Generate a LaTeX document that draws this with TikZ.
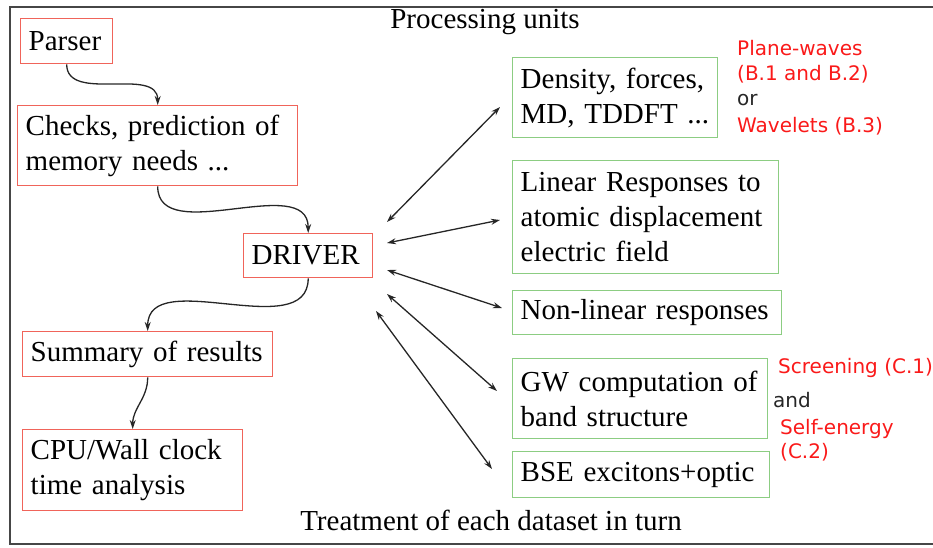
\documentclass[tikz,border=0pt]{standalone}
\usepackage{fontspec}
\setmainfont{Liberation Serif}
\newfontfamily\notefont{DejaVu Sans}
\usetikzlibrary{arrows.meta}

\definecolor{boxred}{RGB}{240,100,90}
\definecolor{boxgreen}{RGB}{140,205,130}
\definecolor{notered}{RGB}{250,25,25}
\definecolor{framegray}{RGB}{70,70,70}

\tikzset{
	unitbox/.style={line width=1.4pt, inner xsep=8pt, inner ysep=0pt, align=left,
		anchor=north west, font=\fontsize{29}{35}\selectfont},
	redbox/.style={unitbox, draw=boxred},
	greenbox/.style={unitbox, draw=boxgreen},
	bigtext/.style={font=\fontsize{29}{35}\selectfont},
	note/.style={anchor=base west, inner sep=0pt, font=\notefont\fontsize{20}{26}\selectfont},
	flow/.style={line width=1.3pt, draw=black!85, -{Stealth[length=9pt,width=6pt]}},
	link/.style={line width=1.3pt, draw=black!85,
		{Stealth[length=9pt,width=6pt]}-{Stealth[length=9pt,width=6pt]}}
}

\begin{document}
\begin{tikzpicture}[x=1pt, y=-1pt]
	\useasboundingbox (0,0) rectangle (933,547);
	% Cadre
	\draw[framegray, line width=1.5pt] (933,7) -- (10,7) -- (10,544) -- (933,544);
	\node[bigtext] (title) at (485,22) {Processing units};
	\node[bigtext] (footer) at (491,520) {Treatment of each dataset in turn};
	% Pilote
	\node[redbox, text width=76pt, minimum height=45pt] (parser) at (20,18) {Parser};
	\node[redbox, text width=264pt, minimum height=80pt] (checks) at (17,105) {Checks, prediction of\\memory needs ...};
	\node[redbox, text width=113pt, minimum height=44pt] (driver) at (243,233) {DRIVER};
	\node[redbox, text width=234pt, minimum height=45pt] (summary) at (22,331) {Summary of results};
	\node[redbox, text width=204pt, minimum height=81pt] (cpu) at (22,429) {CPU/Wall clock\\time analysis};
	\draw[flow] (parser.south) to[out=-90, in=90] (checks.north);
	\draw[flow] (checks.south) to[out=-90, in=90] (driver.north);
	\draw[flow] (driver.south) to[out=-90, in=90] (summary.north);
	\draw[flow] (summary.south) to[out=-90, in=90] (cpu.north);
	% Unites de calcul
	\node[greenbox, text width=189pt, minimum height=80pt] (dens) at (512,57) {Density, forces,\\MD, TDDFT ...};
	\node[greenbox, text width=250pt, minimum height=113pt] (lin) at (512,160) {Linear Responses to\\atomic displacement\\electric field};
	\node[greenbox, text width=253pt, minimum height=44pt] (nonlin) at (512,290) {Non-linear responses};
	\node[greenbox, text width=239pt, minimum height=80pt] (gw) at (512,358) {GW computation of\\band structure};
	\node[greenbox, text width=241pt, minimum height=46pt] (bse) at (512,451) {BSE excitons+optic};
	% Liens
	\coordinate (d1) at (387,222); \coordinate (u1) at (500,107);
	\coordinate (d2) at (387,243); \coordinate (u2) at (500,220);
	\coordinate (d3) at (387,270); \coordinate (u3) at (502,308);
	\coordinate (d4) at (387,294); \coordinate (u4) at (497,391);
	\coordinate (d5) at (376,311); \coordinate (u5) at (492,469);
	\foreach \i in {1,...,5}
		\draw[link] (d\i) -- (u\i);
	% Notes
	\node[note, text=notered] (pw) at (737,55) {Plane-waves};
	\node[note, text=notered] (pwref) at (737,80) {(B.1 and B.2)};
	\node[note, text=black!85] (or) at (737,105) {or};
	\node[note, text=notered] (wl) at (737,132) {Wavelets (B.3)};
	\node[note, text=notered] (scr) at (778,373) {Screening (C.1)};
	\node[note, text=black!85] (and) at (773,407) {and};
	\node[note, text=notered] (se) at (780,434) {Self-energy};
	\node[note, text=notered] (seref) at (780,458) {(C.2)};
\end{tikzpicture}
\end{document}
